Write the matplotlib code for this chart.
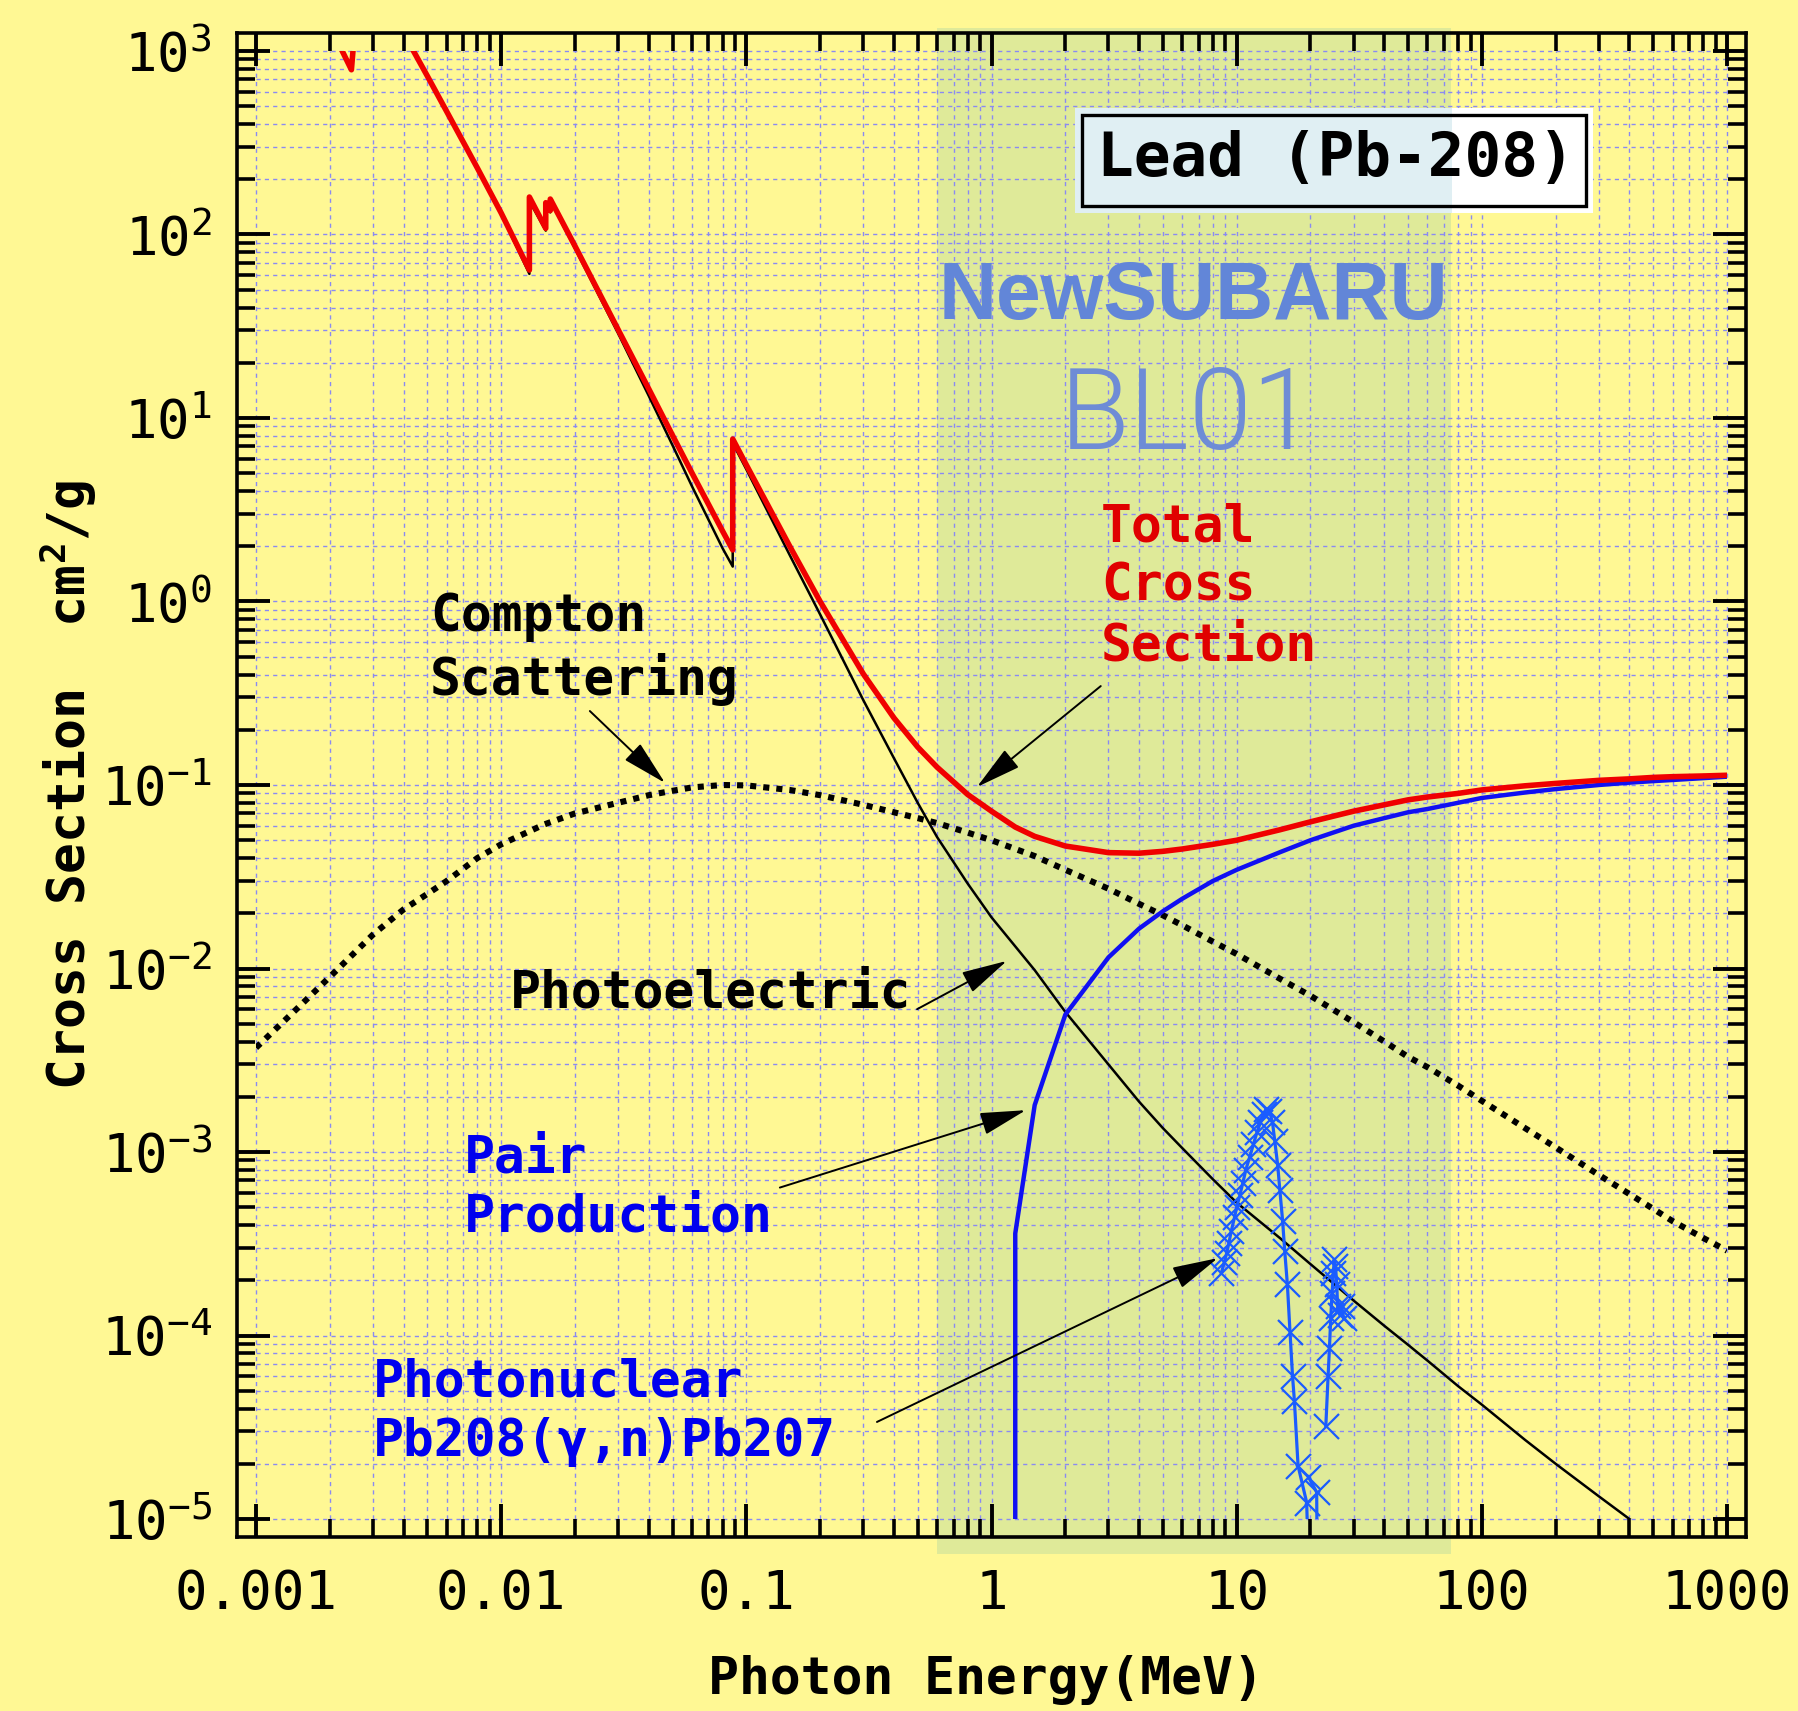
import numpy as np
import matplotlib
matplotlib.use("Agg")
import matplotlib.pyplot as plt
from matplotlib.patches import Rectangle
from matplotlib.ticker import FixedLocator, FixedFormatter, NullFormatter
import matplotlib.transforms as mtransforms

# ---------------- data ----------------
# total cross section, small fragment near the M edges
total_m_E = [0.00220, 0.00245, 0.00256]
total_m_s = [1060, 790, 1600]

# total cross section (cm^2/g) vs photon energy (MeV)
total_E = [0.004, 0.005, 0.006, 0.008, 0.010, 0.013035, 0.013035, 0.0152, 0.0152,
           0.01586, 0.01586, 0.020, 0.030, 0.040, 0.050, 0.060, 0.080, 0.088, 0.088,
           0.100, 0.150, 0.200, 0.300, 0.400, 0.500, 0.600, 0.800, 1.0, 1.25, 1.5,
           2.0, 3.0, 4.0, 5.0, 6.0, 8.0, 10, 15, 20, 30, 40, 50, 60, 80, 100, 150,
           200, 300, 400, 500, 600, 800, 1000]
total_s = [1250, 730, 467, 230, 131, 64, 160, 108, 149,
           135, 156, 86.5, 30.3, 14.4, 8.04, 5.02, 2.42, 1.91, 7.68,
           5.55, 2.01, 1.00, 0.403, 0.232, 0.161, 0.125, 0.0887, 0.072, 0.059, 0.0525,
           0.0465, 0.0428, 0.0425, 0.0435, 0.0448, 0.0475, 0.050, 0.057, 0.063, 0.072,
           0.078, 0.083, 0.086, 0.090, 0.094, 0.099, 0.102, 0.106, 0.108, 0.110,
           0.111, 0.112, 0.113]

# photoelectric
photo_E = [0.004, 0.005, 0.006, 0.008, 0.010, 0.013035, 0.013035, 0.0152, 0.0152,
           0.01586, 0.01586, 0.020, 0.030, 0.040, 0.050, 0.060, 0.080, 0.088, 0.088,
           0.100, 0.150, 0.200, 0.300, 0.400, 0.500, 0.600, 0.800, 1.0, 1.25, 1.5,
           2.0, 3.0, 4.0, 5.0, 6.0, 8.0, 10, 15, 20, 30, 40, 50, 60, 80, 100, 150,
           200, 300, 400, 500, 1000]
photo_s = [1240, 725, 463, 226, 129, 61, 152, 105, 146,
           132, 153, 84, 28.9, 13.2, 7.1, 4.25, 1.95, 1.55, 7.3,
           5.25, 1.8, 0.85, 0.29, 0.14, 0.080, 0.052, 0.029, 0.019, 0.0132, 0.0098,
           0.0058, 0.0030, 0.00188, 0.00135, 0.00105, 7.1e-4, 5.3e-4, 3.4e-4, 2.45e-4,
           1.55e-4, 1.13e-4, 8.9e-5, 7.3e-5, 5.3e-5, 4.2e-5, 2.7e-5,
           2.0e-5, 1.33e-5, 1.0e-5, 8.0e-6, 4.0e-6]

# Compton scattering
compton_E = [0.001, 0.0015, 0.002, 0.003, 0.004, 0.005, 0.006, 0.008, 0.010, 0.015,
             0.020, 0.030, 0.040, 0.050, 0.060, 0.080, 0.100, 0.150, 0.200, 0.300,
             0.400, 0.500, 0.600, 0.800, 1.0, 1.5, 2.0, 3.0, 4.0, 5.0, 6.0, 8.0, 10,
             15, 20, 30, 40, 50, 60, 80, 100, 150, 200, 300, 400, 500, 600, 800, 1000]
compton_s = [3.7e-3, 6.2e-3, 9.0e-3, 0.0153, 0.0210, 0.0255, 0.030, 0.040, 0.0475, 0.061,
             0.070, 0.080, 0.088, 0.093, 0.097, 0.100, 0.0995, 0.094, 0.088, 0.078,
             0.071, 0.066, 0.062, 0.055, 0.050, 0.041, 0.0345, 0.0272, 0.0225, 0.0195,
             0.0172, 0.0140, 0.0120, 0.0088, 0.0071, 0.0051, 0.0040, 0.0033, 0.0029,
             0.0023, 0.0019, 0.00135, 0.00106, 7.5e-4, 5.9e-4, 4.9e-4, 4.2e-4, 3.4e-4,
             2.9e-4]

# pair production
pair_E = [1.25, 1.25, 1.5, 2.0, 3.0, 4.0, 5.0, 6.0, 8.0, 10, 15, 20, 30, 40, 50, 60,
          80, 100, 150, 200, 300, 400, 500, 600, 800, 1000]
pair_s = [1e-6, 3.6e-4, 1.8e-3, 5.6e-3, 0.0115, 0.0165, 0.0205, 0.024, 0.030, 0.0345,
          0.043, 0.050, 0.060, 0.066, 0.071, 0.074, 0.080, 0.085, 0.091, 0.095, 0.100,
          0.103, 0.105, 0.1065, 0.109, 0.111]

# photonuclear Pb208(g,n)Pb207
gdr1_E = [8.67, 8.9, 9.1, 9.3, 9.5, 9.8, 10.0, 10.3, 10.6, 10.9, 11.3, 11.7, 12.1,
          12.5, 12.9, 13.2, 13.6, 14.0, 14.3, 14.7, 15.0, 15.4, 15.7, 16.1, 16.5,
          16.9, 17.2, 17.8, 19.3, 19.6]
gdr1_s = [2.2e-4, 2.5e-4, 2.8e-4, 3.2e-4, 3.7e-4, 4.4e-4, 5.0e-4, 5.8e-4, 6.8e-4,
          8.0e-4, 9.4e-4, 1.1e-3, 1.28e-3, 1.45e-3, 1.62e-3, 1.72e-3, 1.68e-3, 1.45e-3,
          1.15e-3, 8.5e-4, 6.2e-4, 4.2e-4, 2.9e-4, 1.9e-4, 1.05e-4, 6.0e-5, 4.4e-5,
          1.95e-5, 1.23e-5, 6e-6]
gdr2_E = [19.6, 21.2, 21.3]
gdr2_s = [1.7e-5, 1.4e-5, 6e-6]
gdr3_E = [23.1, 23.6, 23.9, 24.2, 24.5, 24.8, 25.0, 25.3, 25.6, 25.8, 26.3, 26.8, 27.3]
gdr3_s = [3.2e-5, 6.0e-5, 8.5e-5, 1.25e-4, 1.7e-4, 2.2e-4, 2.6e-4, 2.4e-4, 1.9e-4,
          1.45e-4, 1.3e-4, 1.45e-4, 1.25e-4]

x_ticks = [1e-3, 1e-2, 1e-1, 1, 10, 100, 1000]
x_ticklabels = ['0.001', '0.01', '0.1', '1', '10', '100', '1000']
y_ticks = [1e3, 1e2, 1e1, 1e0, 1e-1, 1e-2, 1e-3, 1e-4, 1e-5]
y_ticklabels = [r'$\mathregular{10^{3}}$', r'$\mathregular{10^{2}}$', r'$\mathregular{10^{1}}$',
                r'$\mathregular{10^{0}}$', r'$\mathregular{10^{-1}}$', r'$\mathregular{10^{-2}}$',
                r'$\mathregular{10^{-3}}$', r'$\mathregular{10^{-4}}$', r'$\mathregular{10^{-5}}$']
band_E = (0.6, 75.0)

# ---------------- style ----------------
BG = '#fff894'
BAND = '#dfea99'
GRID = '#8a8af2'
RED = '#f00000'
BLUE = '#1010f2'
GDR = '#1a5cff'
TXT_BLUE = '#0000ee'
SUB = '#6286d8'

plt.rcParams['font.family'] = ['DejaVu Sans Mono', 'DejaVu Sans']
plt.rcParams['mathtext.default'] = 'regular'

W, H = 1798, 1711
fig = plt.figure(figsize=(W / 100, H / 100), dpi=100, facecolor=BG)
ax = fig.add_axes([237 / W, (H - 1537) / H, 1509 / W, 1504 / H])
ax.set_facecolor(BG)
ax.set_xscale('log')
ax.set_yscale('log')
ax.set_xlim(10 ** -3.0775, 10 ** 3.0775)
ax.set_ylim(10 ** -5.098, 10 ** 3.098)

data_lo, data_hi = 1e-3, 1e3
s_lo, s_hi = 1e-5, 1e3

# band
band = Rectangle((band_E[0], -0.0113), band_E[1] - band_E[0], 1.0146,
                 transform=mtransforms.blended_transform_factory(ax.transData, ax.transAxes),
                 facecolor=BAND, edgecolor='none', zorder=0.5, clip_on=False)
ax.add_patch(band)

# grid (only inside data rectangle)
decades = 10.0 ** np.arange(-3, 3)
xg = [d * k for d in decades for k in range(1, 10)] + [1000.0]
ydec = 10.0 ** np.arange(-5, 3)
yg = [d * k for d in ydec for k in range(1, 10)] + [1000.0]
ax.vlines(xg, s_lo, s_hi, colors=GRID, lw=1.0, linestyles=(0, (3, 3)), zorder=1)
ax.hlines(yg, data_lo, data_hi, colors=GRID, lw=1.0, linestyles=(0, (3, 3)), zorder=1)

clip = Rectangle((data_lo, s_lo), data_hi - data_lo, s_hi - s_lo, transform=ax.transData)

lines = []
lines += ax.plot(compton_E, compton_s, color='black', lw=4.4, linestyle=(0, (1, 1.15)), zorder=3)
lines += ax.plot(photo_E, photo_s, color='black', lw=1.8, zorder=3)
lines += ax.plot(pair_E, pair_s, color=BLUE, lw=3.2, zorder=4)
lines += ax.plot(total_m_E, total_m_s, color=RED, lw=4.0, zorder=5)
lines += ax.plot(total_E, total_s, color=RED, lw=4.0, zorder=5)
for e, s in [(gdr1_E, gdr1_s), (gdr2_E, gdr2_s), (gdr3_E, gdr3_s)]:
    lines += ax.plot(e, s, color=GDR, lw=2.3, marker='x', ms=18, mew=1.6, zorder=4)
for ln in lines:
    ln.set_clip_path(clip)

# ticks
ax.xaxis.set_major_locator(FixedLocator(x_ticks))
ax.xaxis.set_major_formatter(FixedFormatter(x_ticklabels))
ax.yaxis.set_major_locator(FixedLocator(y_ticks))
ax.yaxis.set_major_formatter(FixedFormatter(y_ticklabels))
xminor = [d * k for d in decades for k in range(2, 10)]
yminor = [d * k for d in ydec for k in range(2, 10)]
ax.xaxis.set_minor_locator(FixedLocator(xminor))
ax.yaxis.set_minor_locator(FixedLocator(yminor))
ax.xaxis.set_minor_formatter(NullFormatter())
ax.yaxis.set_minor_formatter(NullFormatter())
ax.tick_params(which='major', direction='in', length=24, width=2.8, top=True, right=True,
               labelsize=39, color='black')
ax.tick_params(which='minor', direction='in', length=13, width=2.6, top=True, right=True)
ax.tick_params(axis='x', which='major', pad=22)
ax.tick_params(axis='y', which='major', pad=18)
for sp in ax.spines.values():
    sp.set_linewidth(2.6)
    sp.set_zorder(6)

ax.set_xlabel('Photon Energy(MeV)', fontsize=37, fontweight='bold', va='center')
ax.xaxis.set_label_coords(0.4964, -0.095)
ax.set_ylabel(r'Cross Section  cm$^2$/g', fontsize=37, fontweight='bold', va='center')
ax.yaxis.set_label_coords(-0.112, 0.5)

# title box
ax.add_patch(Rectangle((0.5553, 0.8803), 0.8986 - 0.5553, 0.9501 - 0.8803, transform=ax.transAxes,
                       facecolor='white', edgecolor='none', zorder=7))
ax.add_patch(Rectangle((0.5553, 0.8803), 0.8052 - 0.5553, 0.9501 - 0.8803, transform=ax.transAxes,
                       facecolor='#e0eff3', edgecolor='none', zorder=7))
ax.add_patch(Rectangle((0.560, 0.885), 0.894 - 0.560, 0.9455 - 0.885, transform=ax.transAxes,
                       facecolor='none', edgecolor='black', lw=2.4, zorder=8))
ax.text(0.7285, 0.9156, 'Lead (Pb-208)', transform=ax.transAxes, fontsize=44, fontweight='bold',
        ha='center', va='center', color='black', zorder=9)

ax.text(0.6335, 0.8238, 'NewSUBARU', transform=ax.transAxes, fontsize=58, fontweight='bold',
        family=['Liberation Sans', 'DejaVu Sans'], color=SUB, ha='center', va='center', zorder=3)
ax.text(0.630, 0.744, 'BL01', transform=ax.transAxes, fontsize=82, fontweight=300,
        family=['Roboto', 'DejaVu Sans'], color='#6e8cd6', ha='center', va='center', zorder=3)

# labels and arrows
tkw = dict(transform=ax.transAxes, fontsize=37, fontweight='bold', ha='left', va='top',
           linespacing=1.25, zorder=9)
ax.text(0.5726, 0.688, 'Total\nCross\nSection', color='#e00000', **tkw)
ax.text(0.1279, 0.628, 'Compton\nScattering', color='black', **tkw)
ax.text(0.181, 0.3777, 'Photoelectric', color='black', **tkw)
ax.text(0.1504, 0.2685, 'Pair\nProduction', color=TXT_BLUE, **tkw)
ax.text(0.0901, 0.1195, 'Photonuclear\nPb208(γ,n)Pb207', color=TXT_BLUE, **tkw)

arrows = [((2.79, 0.346), (0.872, 0.0975)),
          ((0.0230, 0.253), (0.0466, 0.1026)),
          ((0.497, 6.0e-3), (1.155, 0.011)),
          ((0.137, 6.4e-4), (1.38, 1.69e-3)),
          ((0.341, 3.38e-5), (8.37, 2.64e-4))]
for tail, tip in arrows:
    ax.annotate('', xy=tip, xytext=tail, xycoords='data', textcoords='data',
                arrowprops=dict(arrowstyle='-|>,head_length=1.3,head_width=0.32',
                                mutation_scale=22, color='black', lw=1.4,
                                shrinkA=0, shrinkB=0), zorder=9)

fig.savefig('out.png', dpi=100, facecolor=BG)
